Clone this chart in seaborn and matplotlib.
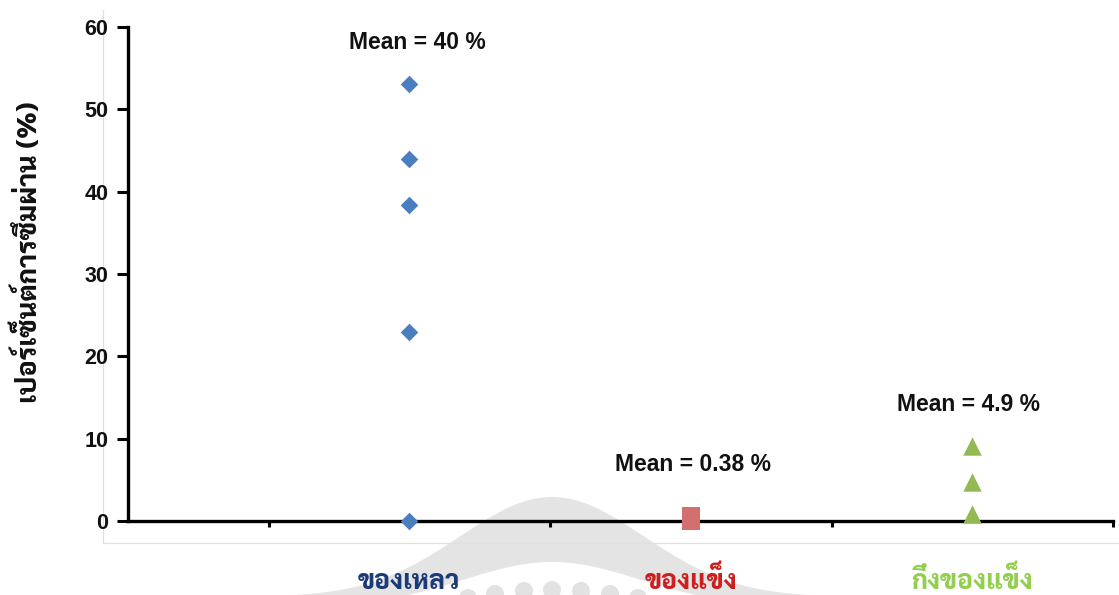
import numpy as np
import pandas as pd
import matplotlib
matplotlib.use("Agg")
import matplotlib.pyplot as plt
import seaborn as sns
from matplotlib.patches import Polygon, Circle
from matplotlib.lines import Line2D
from matplotlib.transforms import blended_transform_factory

# Permeation (%) measured for each formulation type
categories = ["ของเหลว", "ของแข็ง", "กึ่งของแข็ง"]
liquid_vals = [53.1, 44.0, 38.4, 23.0, 0.0]
solid_vals = [0.0, 0.5, 0.64]
semisolid_vals = [9.1, 4.7, 0.9]
mean_vals = [40, 0.38, 4.9]
y_ticks = [0, 10, 20, 30, 40, 50, 60]
y_label = "เปอร์เซ็นต์การซึมผ่าน (%)"

marker_colors = ["#4A7EBF", "#D46F6F", "#93B955"]
label_colors = ["#1B3A78", "#CC1F1F", "#92CF4E"]
markers = ["D", "s", "^"]
marker_sizes = [80, 175, 175]

sns.set_theme(style="white")
plt.rcParams["font.family"] = ["Liberation Sans", "DejaVu Sans"]
THAI = ["Sarabun", "DejaVu Sans"]

W, H = 1119, 595
fig = plt.figure(figsize=(W / 100, H / 100), dpi=100)
fig.patch.set_facecolor("white")


def fp(x, y):
    """Figure-fraction point from pixel position measured from the top-left."""
    return (x / W, 1 - y / H)


# faint watermark arch with a row of dots behind the chart
xs = np.linspace(240, 880, 200)
outer = [fp(x, 497 + 100 * (1 - np.exp(-((x - 552) / 130) ** 2))) for x in xs]
outer = [fp(240, 640)] + outer + [fp(880, 640)]
inner_xs = np.linspace(300, 800, 200)
inner = [fp(x, 562 + 45 * (1 - np.exp(-((x - 552) / 125) ** 2))) for x in inner_xs]
inner = [fp(300, 640)] + inner + [fp(800, 640)]
fig.add_artist(Polygon(outer, closed=True, transform=fig.transFigure,
                       facecolor="#e4e4e4", edgecolor="none", zorder=-2))
fig.add_artist(Polygon(inner, closed=True, transform=fig.transFigure,
                       facecolor="white", edgecolor="none", zorder=-1.5))
for dx, dy in zip([468, 495, 524, 552, 581, 610, 638],
                  [598, 594, 591, 590, 591, 594, 598]):
    c = Circle((dx, H - dy), 9, transform=None, facecolor="#e2e2e2",
               edgecolor="none", zorder=-1)
    fig.add_artist(c)

# thin frame of the plot area
fig.add_artist(Line2D([103 / W, 103 / W], [1 - 10 / H, 1 - 543 / H],
                      transform=fig.transFigure, color="#e0e0e0", lw=0.9, zorder=-1))
fig.add_artist(Line2D([103 / W, 1.0], [1 - 543 / H, 1 - 543 / H],
                      transform=fig.transFigure, color="#e0e0e0", lw=0.9, zorder=-1))

ax = fig.add_axes([128 / W, 1 - 521 / H, (1113 - 128) / W, (521 - 27) / H])
ax.set_facecolor("none")
ax.set_zorder(1)

groups = [liquid_vals, solid_vals, semisolid_vals]
frames = []
for i, vals in enumerate(groups):
    frames.append(pd.DataFrame({"pos": [i] * len(vals), "value": vals,
                                "group": categories[i]}))
df = pd.concat(frames, ignore_index=True)

for i, cat in enumerate(categories):
    sub = df[df["group"] == cat]
    sns.scatterplot(data=sub, x="pos", y="value", ax=ax, marker=markers[i],
                    color=marker_colors[i], s=marker_sizes[i], linewidth=0,
                    clip_on=False, zorder=5, legend=False)

ax.set_xlim(-1, 2.5)
ax.set_ylim(0, 60)
ax.set_yticks(y_ticks)
ax.set_xticks([-0.5, 0.5, 1.5, 2.5])
ax.set_xticklabels([])
ax.set_xlabel("")
ax.set_ylabel("")

for side in ["top", "right"]:
    ax.spines[side].set_visible(False)
for side in ["left", "bottom"]:
    ax.spines[side].set_color("black")
    ax.spines[side].set_linewidth(2.4)
    ax.spines[side].set_zorder(3)

ax.tick_params(axis="y", direction="out", length=8, width=2.2, color="black",
               pad=6, left=True)
ax.tick_params(axis="x", direction="out", length=4, width=2.2, color="black",
               bottom=True)
for lbl in ax.get_yticklabels():
    lbl.set_fontweight("bold")
    lbl.set_fontsize(15.5)
    lbl.set_color("#111111")

# category names under the axis
tr = blended_transform_factory(ax.transData, fig.transFigure)
for i, cat in enumerate(categories):
    ax.text(i, 1 - 589 / H, cat, transform=tr, ha="center", va="baseline",
            family=THAI, fontweight=800, fontsize=19, color=label_colors[i],
            clip_on=False)

# mean annotations
label_x = [0.03, 1.007, 1.986]
label_y = [58.1, 6.9, 14.2]
for i, m in enumerate(mean_vals):
    ax.text(label_x[i], label_y[i], f"Mean = {m} %", ha="center", va="center",
            fontsize=16.5, fontweight="bold", color="#111111", clip_on=False)

fig.text(28 / W, 1 - 252 / H, y_label, rotation=90, ha="center", va="center",
         family=THAI, fontweight=800, fontsize=19.5, color="#111111")

fig.savefig("out.png", dpi=100)
